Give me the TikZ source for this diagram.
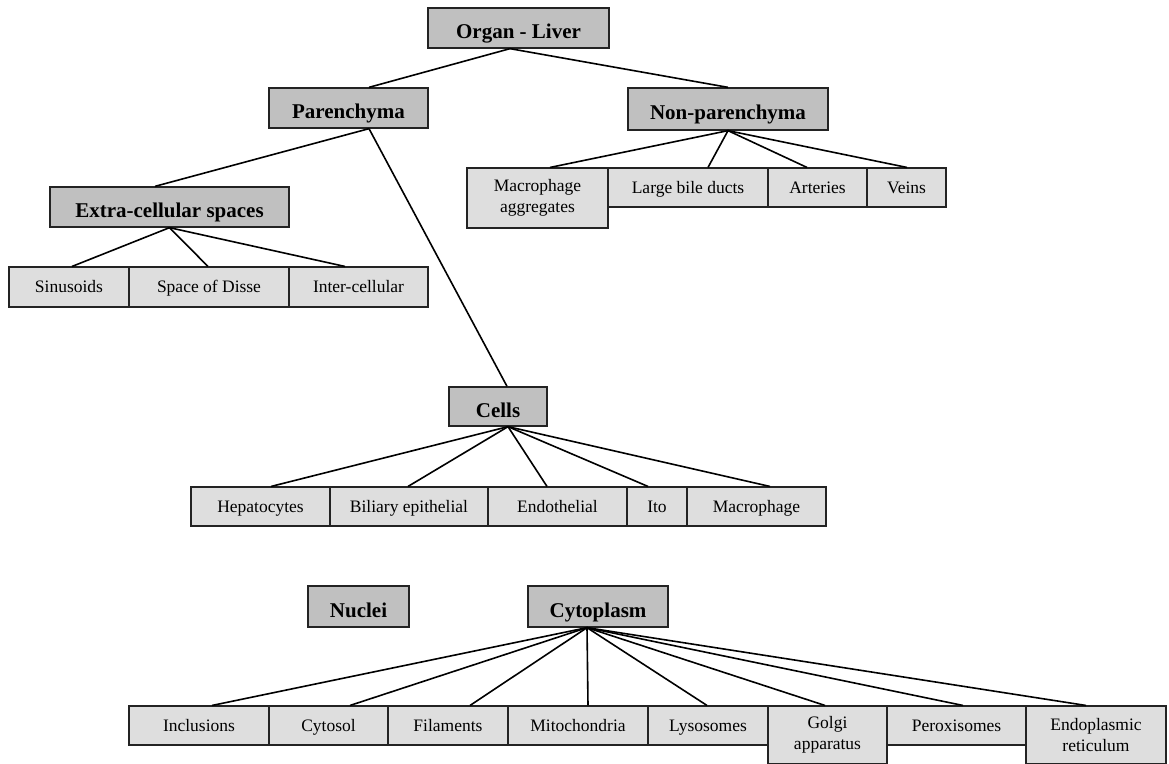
\documentclass[tikz,border=0pt]{standalone}
\usepackage{fontspec}
\setmainfont{Liberation Serif}
\usepackage{tikz}

\definecolor{headgray}{RGB}{192,192,192}
\definecolor{leafgray}{RGB}{222,222,222}
\definecolor{edgegray}{RGB}{35,35,35}

\tikzset{
  head/.style={draw=edgegray, line width=1.3pt, fill=headgray, inner sep=0pt,
    text height=21pt, text depth=0pt,
    font=\fontsize{21}{24}\selectfont\bfseries},
  leafbase/.style={draw=edgegray, line width=1.1pt, fill=leafgray, inner sep=0pt,
    align=center, font=\fontsize{17.5}{21}\selectfont},
  leaf/.style={leafbase, text height=14pt, text depth=2.5pt},
  leafm/.style={leafbase},
  link/.style={line width=1.6pt, black}
}

\begin{document}
\begin{tikzpicture}[x=1pt,y=-1pt]
  \useasboundingbox (0,0) rectangle (1169,763);

  % top levels
  \node[head, minimum width=181pt, minimum height=40pt] (org) at (518.5,28) {Organ - Liver};
  \node[head, minimum width=159pt, minimum height=40pt] (par) at (348.5,108) {Parenchyma};
  \node[head, minimum width=200pt, minimum height=42pt] (nonpar) at (728,109) {Non-parenchyma};
  \node[head, minimum width=239pt, minimum height=40pt] (ecs) at (169.5,207) {Extra-cellular spaces};
  \node[head, minimum width=98pt, minimum height=39pt] (cells) at (498,406.5) {Cells};
  \node[head, minimum width=101pt, minimum height=41pt] (nuc) at (358.5,606.5) {Nuclei};
  \node[head, minimum width=140pt, minimum height=41pt] (cyto) at (598,606.5) {Cytoplasm};

  % extra-cellular spaces
  \node[leaf, minimum width=120pt, minimum height=40pt] (sin) at (69,287) {Sinusoids};
  \node[leaf, minimum width=160pt, minimum height=40pt] (sod) at (209,287) {Space of Disse};
  \node[leaf, minimum width=139pt, minimum height=40pt] (inter) at (358.5,287) {Inter-cellular};

  % non-parenchyma
  \node[leafm, minimum width=141pt, minimum height=60pt] (macagg) at (537.5,198) {Macrophage\\aggregates};
  \node[leaf, minimum width=160pt, minimum height=39pt] (bile) at (688,187.5) {Large bile ducts};
  \node[leaf, minimum width=99pt, minimum height=39pt] (art) at (817.5,187.5) {Arteries};
  \node[leaf, minimum width=79pt, minimum height=39pt] (vein) at (906.5,187.5) {Veins};

  % cells
  \node[leaf, minimum width=139pt, minimum height=39pt] (hep) at (260.5,506.5) {Hepatocytes};
  \node[leaf, minimum width=158pt, minimum height=39pt] (bil) at (409,506.5) {Biliary epithelial};
  \node[leaf, minimum width=139pt, minimum height=39pt] (endo) at (557.5,506.5) {Endothelial};
  \node[leaf, minimum width=60pt, minimum height=39pt] (ito) at (657,506.5) {Ito};
  \node[leaf, minimum width=139pt, minimum height=39pt] (mac) at (756.5,506.5) {Macrophage};

  % cytoplasm
  \node[leaf, minimum width=140pt, minimum height=39pt] (incl) at (199,725.5) {Inclusions};
  \node[leaf, minimum width=119pt, minimum height=39pt] (cytosol) at (328.5,725.5) {Cytosol};
  \node[leaf, minimum width=120pt, minimum height=39pt] (fil) at (448,725.5) {Filaments};
  \node[leaf, minimum width=140pt, minimum height=39pt] (mito) at (578,725.5) {Mitochondria};
  \node[leaf, minimum width=120pt, minimum height=39pt] (lyso) at (708,725.5) {Lysosomes};
  \node[leafm, minimum width=119pt, minimum height=58pt] (golgi) at (827.5,735) {Golgi\\apparatus};
  \node[leaf, minimum width=139pt, minimum height=39pt] (perox) at (956.5,725.5) {Peroxisomes};
  \node[leafm, minimum width=140pt, minimum height=58pt] (er) at (1096,735) {Endoplasmic\\reticulum};

  % connectors
  \draw[link] ([xshift=-8.5pt]org.south) -- ([xshift=20.5pt]par.north);
  \draw[link] ([xshift=-8.5pt]org.south) -- (nonpar.north);
  \draw[link] ([xshift=20.5pt]par.south) -- ([xshift=-14.5pt]ecs.north);
  \draw[link] ([xshift=20.5pt]par.south) -- ([xshift=9pt]cells.north);
  \foreach \c/\s in {sin/3,sod/-1,inter/-13.5}
    \draw[link] (ecs.south) -- ([xshift=\s pt]\c.north);
  \foreach \c/\s in {macagg/12.5,bile/20,art/-10.5,vein/0.5}
    \draw[link] (nonpar.south) -- ([xshift=\s pt]\c.north);
  \foreach \c/\s in {hep/10.5,bil/-1,endo/-10.5,ito/-9,mac/13.5}
    \draw[link] ([xshift=10pt]cells.south) -- ([xshift=\s pt]\c.north);
  \foreach \c/\s in {incl/13,cytosol/21.5,fil/22,mito/10,lyso/-1,golgi/-2.5,perox/6.5,er/-10}
    \draw[link] ([xshift=-11pt]cyto.south) -- ([xshift=\s pt]\c.north);
\end{tikzpicture}
\end{document}
